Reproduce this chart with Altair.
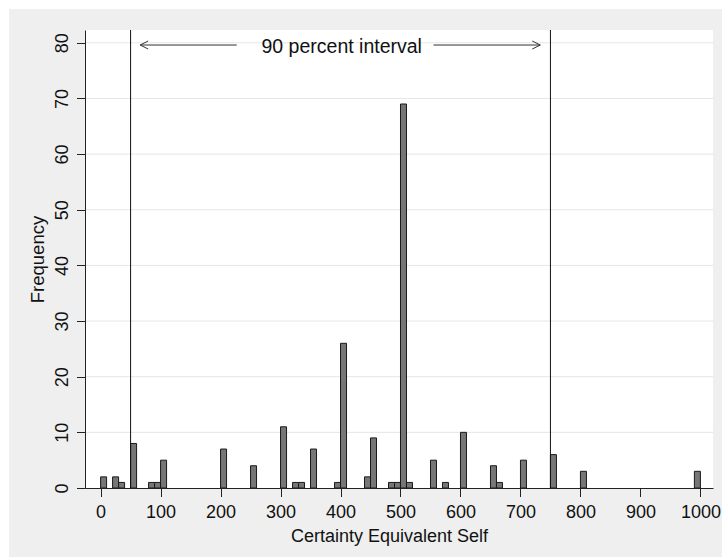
import altair as alt
import pandas as pd

# ---- data ----
bin_starts = [0, 20, 30, 50, 80, 90, 100, 200, 250, 300, 320, 330, 350, 390, 400,
              440, 450, 480, 490, 500, 510, 550, 570, 600, 650, 660, 700, 750, 800, 990]
frequencies = [2, 2, 1, 8, 1, 1, 5, 7, 4, 11, 1, 1, 7, 1, 26,
               2, 9, 1, 1, 69, 1, 5, 1, 10, 4, 1, 5, 6, 3, 3]
bin_width = 10
interval_bounds = [50, 750]
x_ticks = [0, 100, 200, 300, 400, 500, 600, 700, 800, 900, 1000]
y_ticks = [0, 10, 20, 30, 40, 50, 60, 70, 80]
arrow_left = [66, 227]     # tip, tail
arrow_right = [555, 733]   # tail, tip
arrow_level = 79.6
label_text = "90 percent interval"
label_pos = 402
x_title = "Certainty Equivalent Self"
y_title = "Frequency"

# ---- layout ----
W, H = 628, 458
FONT = "Liberation Sans"
xs = alt.Scale(domain=[-26, 1021], nice=False, zero=False)
ys = alt.Scale(domain=[0, 82.3], nice=False, zero=False)

bars_df = pd.DataFrame({"start": bin_starts, "freq": frequencies})
bars_df["end"] = bars_df["start"] + bin_width
dummy = pd.DataFrame({"a": [0]})
grid_df = pd.DataFrame({"gy": y_ticks[1:]})
vline_df = pd.DataFrame({"vx": interval_bounds})
shaft_df = pd.DataFrame({"x1": [arrow_left[0], arrow_right[0]],
                         "x2": [arrow_left[1], arrow_right[1]],
                         "ay": [arrow_level, arrow_level]})
lhead_df = pd.DataFrame({"hx": [arrow_left[0]], "hy": [arrow_level]})
rhead_df = pd.DataFrame({"hx": [arrow_right[1]], "hy": [arrow_level]})
text_df = pd.DataFrame({"tx": [label_pos], "ty": [arrow_level], "t": [label_text]})

x_axis = alt.Axis(values=x_ticks, title=x_title, grid=False, zindex=1, format="d",
                  domainColor="#222", tickColor="#222", tickSize=8.5,
                  labelFont=FONT, labelFontSize=18, labelColor="#111",
                  labelBaseline="top", labelPadding=7,
                  titleFont=FONT, titleFontSize=18, titleFontWeight="normal",
                  titleColor="#111", titleX=304, titleY=53,
                  titleAlign="center", titleBaseline="alphabetic")
y_axis = alt.Axis(values=y_ticks, title=y_title, grid=False, zindex=1, format="d",
                  domainColor="#222", tickColor="#222", tickSize=8.5,
                  labelFont=FONT, labelFontSize=18, labelColor="#111",
                  labelAngle=-90, labelAlign="center", labelBaseline="bottom",
                  labelPadding=5,
                  titleFont=FONT, titleFontSize=18.5, titleFontWeight="normal",
                  titleColor="#111", titleX=-42, titleY=229, titleAngle=-90,
                  titleAlign="center", titleBaseline="alphabetic")

bg_gray = alt.Chart(dummy).mark_rect(color="#efefef").encode(
    x=alt.value(-76), x2=alt.value(637), y=alt.value(-21), y2=alt.value(527))
bg_white = alt.Chart(dummy).mark_rect(color="#ffffff").encode(
    x=alt.value(0), x2=alt.value(W), y=alt.value(0), y2=alt.value(H))

grid = alt.Chart(grid_df).mark_rule(color="#e6e6e6", strokeWidth=1).encode(
    y=alt.Y("gy:Q", scale=ys, axis=y_axis), x=alt.value(0), x2=alt.value(W))

bars = alt.Chart(bars_df).mark_bar(fill="#767676", stroke="#1a1a1a", strokeWidth=1).encode(
    x=alt.X("start:Q", scale=xs, axis=x_axis),
    x2="end:Q",
    y=alt.Y("freq:Q", scale=ys, axis=y_axis),
    y2=alt.datum(0))

vlines = alt.Chart(vline_df).mark_rule(color="#111", strokeWidth=1).encode(
    x=alt.X("vx:Q", scale=xs, axis=x_axis), y=alt.value(0), y2=alt.value(H))

shafts = alt.Chart(shaft_df).mark_rule(color="#333", strokeWidth=1).encode(
    x=alt.X("x1:Q", scale=xs, axis=x_axis), x2="x2:Q",
    y=alt.Y("ay:Q", scale=ys, axis=y_axis))

lhead = alt.Chart(lhead_df).mark_point(
    shape="M 1 -1 L -1 0 L 1 1", filled=False, size=64, stroke="#333",
    strokeWidth=1, xOffset=4, opacity=1).encode(
    x=alt.X("hx:Q", scale=xs, axis=x_axis), y=alt.Y("hy:Q", scale=ys, axis=y_axis))
rhead = alt.Chart(rhead_df).mark_point(
    shape="M -1 -1 L 1 0 L -1 1", filled=False, size=64, stroke="#333",
    strokeWidth=1, xOffset=-4, opacity=1).encode(
    x=alt.X("hx:Q", scale=xs, axis=x_axis), y=alt.Y("hy:Q", scale=ys, axis=y_axis))

label = alt.Chart(text_df).mark_text(
    font=FONT, fontSize=19.5, color="#111", align="center", baseline="middle", dy=2).encode(
    x=alt.X("tx:Q", scale=xs, axis=x_axis), y=alt.Y("ty:Q", scale=ys, axis=y_axis),
    text="t:N")

chart = alt.layer(bg_gray, bg_white, grid, bars, vlines, shafts, lhead, rhead, label).properties(
    width=W, height=H,
    autosize=alt.AutoSizeParams(type="none"),
    padding={"left": 85, "top": 30, "right": 9, "bottom": 69},
    background="#ffffff",
).configure_view(strokeWidth=0, fill="#ffffff")

chart.save("out.html", embed_options={"renderer": "svg", "actions": False})
